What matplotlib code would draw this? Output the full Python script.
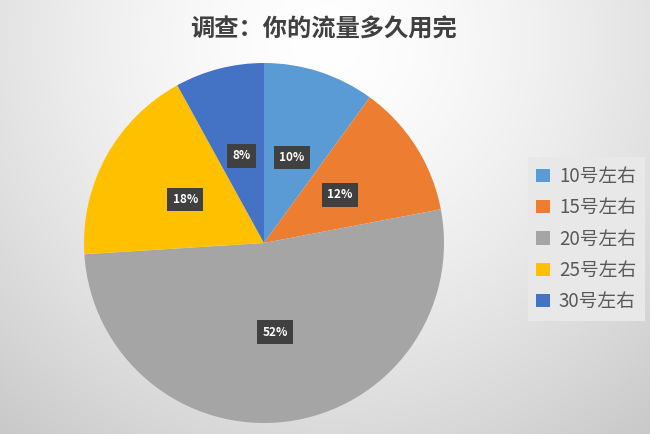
import numpy as np
import matplotlib
matplotlib.use("Agg")
import matplotlib.pyplot as plt

plt.rcParams['font.family'] = ['Noto Sans CJK SC', 'DejaVu Sans']

title = "调查：你的流量多久用完"
categories = ["10号左右", "15号左右", "20号左右", "25号左右", "30号左右"]
values = [10, 12, 52, 18, 8]
colors = ["#5B9BD5", "#ED7D31", "#A5A5A5", "#FFC000", "#4472C4"]

fig = plt.figure(figsize=(6.5, 4.34), dpi=100)

# background gradient
bg = fig.add_axes([0, 0, 1, 1])
yy, xx = np.mgrid[0:434, 0:650]
d = np.sqrt(((xx - 325) / 420.0) ** 2 + ((yy - 40) / 420.0) ** 2)
shade = 1.0 - 0.16 * np.clip(d, 0, 1.2) ** 1.5
img = np.dstack([shade, shade, shade])
bg.imshow(img, extent=[0, 650, 434, 0], aspect='auto')
bg.set_xlim(0, 650)
bg.set_ylim(434, 0)
bg.axis('off')

cx, cy, r = 264, 243, 180
ax = fig.add_axes([(cx - r) / 650, (434 - cy - r) / 434, 2 * r / 650, 2 * r / 434])
wedges, texts, autotexts = ax.pie(values, colors=colors, startangle=90, counterclock=False,
                                  autopct='%d%%', pctdistance=0.5, radius=1.0,
                                  wedgeprops=dict(linewidth=0))
for t in autotexts:
    t.set_color('white')
    t.set_fontsize(8.5)
    t.set_fontweight('bold')
    t.set_bbox(dict(boxstyle='square,pad=0.45', facecolor='#404040', edgecolor='none'))
ax.set_xlim(-1, 1)
ax.set_ylim(-1, 1)
ax.set_aspect('equal')

fig.text(323 / 650, 1 - 30 / 434, title, ha='center', va='center', fontsize=17.5,
         fontweight='bold', color='#404040')

leg = fig.legend(wedges, categories, loc='center left', bbox_to_anchor=(528 / 650, 1 - 239 / 434),
                 fontsize=13.5, frameon=True, handlelength=0.7, handleheight=0.7,
                 handletextpad=0.5, labelspacing=0.55, borderpad=0.45, borderaxespad=0,
                 labelcolor='#595959')
leg.get_frame().set_facecolor('#E8E8E8')
leg.get_frame().set_edgecolor('none')
leg.get_frame().set_alpha(1)
leg.get_frame().set_boxstyle('square', pad=0)

fig.savefig("out.png", dpi=100)
